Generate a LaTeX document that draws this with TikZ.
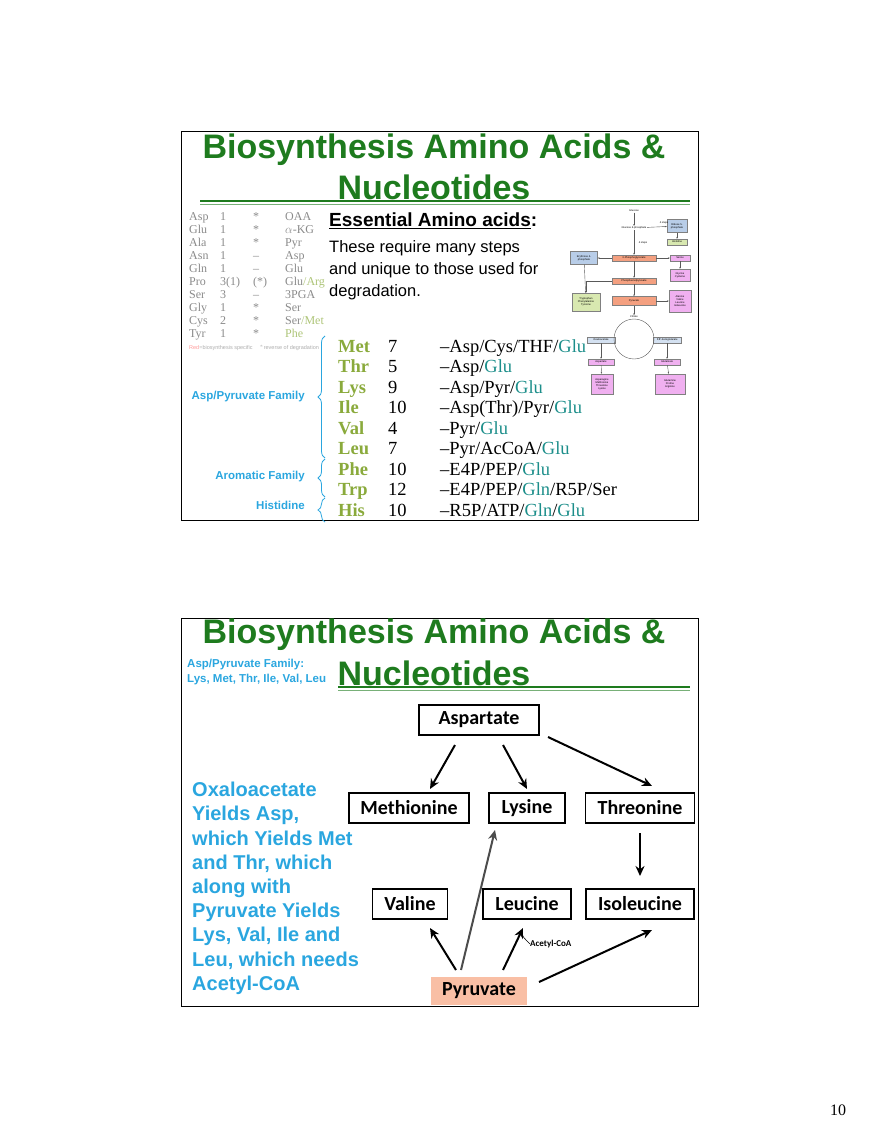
\documentclass[tikz,border=0pt]{standalone}
\usepackage{fontspec}
\setmainfont{Liberation Serif}
\newfontfamily\arial{Liberation Sans}
\newfontfamily\calib{Carlito}
\usetikzlibrary{arrows.meta,decorations.pathreplacing}
\definecolor{tgreen}{HTML}{1E7B1E}
\definecolor{olive}{HTML}{8AAA3C}
\definecolor{teal}{HTML}{1C8E8A}
\definecolor{sky}{HTML}{2AA6DF}
\definecolor{salmon}{HTML}{F9BFA5}
\definecolor{pgray}{HTML}{8A8A8A}
\definecolor{pbl}{HTML}{B8CDE8}
\definecolor{ppk}{HTML}{F0B0F0}
\definecolor{pgr}{HTML}{D8E8B0}
\definecolor{psl}{HTML}{F4A080}
\tikzset{
 title/.style={font=\arial\bfseries\fontsize{34}{34}\selectfont,text=tgreen},
 tab/.style={font=\fontsize{12}{12}\selectfont,text=pgray,anchor=base west,inner sep=0},
 aa/.style={font=\bfseries\fontsize{18.5}{18.5}\selectfont,text=olive,anchor=base west,inner sep=0},
 num/.style={font=\fontsize{18.5}{18.5}\selectfont,anchor=base west,inner sep=0},
 fam/.style={font=\arial\bfseries\fontsize{11.5}{11.5}\selectfont,text=sky,anchor=east,inner sep=0},
 br/.style={sky,thick,decorate,decoration={brace,amplitude=7pt,mirror}},
 aabox/.style={draw,line width=1.8pt,font=\calib\bfseries\fontsize{20}{20}\selectfont,inner sep=0,minimum height=30pt},
 arr/.style={-{Stealth[length=10pt,width=9pt]},line width=2pt},
 pb/.style={draw=gray,line width=0.3pt,font=\arial\fontsize{2.6}{3}\selectfont,inner sep=0.6pt,align=center},
 pa/.style={-{Stealth[length=2pt]},line width=0.4pt,gray!70!black},
}
\begin{document}
\begin{tikzpicture}[x=1pt,y=-1pt]
\useasboundingbox (0,0) rectangle (880,1139);
% ===== slide 1 =====
\draw[line width=1pt] (181,132) rectangle (698,520);
\node[title] (t1) at (434,150) {Biosynthesis Amino Acids \&};
\node[title] (t2) at (434,187) {Nucleotides};
\draw[tgreen,line width=1.2pt] (200,201) -- (690,201);
\draw[tgreen!60,line width=0.8pt] (200,204) -- (690,204);
\foreach \a/\b/\c/\d [count=\i] in {Asp/1/*/OAA,Glu/1/*/$\alpha$-KG,Ala/1/*/Pyr,Asn/1/--/Asp,Gln/1/--/Glu,Pro/3(1)/(*)/Glu{\color{olive!70}/Arg},Ser/3/--/3PGA,Gly/1/*/Ser,Cys/2/*/Ser{\color{olive!70}/Met},Tyr/1/*/{\color{olive!70}Phe}}{
 \pgfmathsetmacro\yy{221+(\i-1)*12.9}
 \node[tab] (ta\i) at (189,\yy) {\a};
 \node[tab] (tb\i) at (220,\yy) {\b};
 \node[tab] (tc\i) at (253,\yy) {\c};
 \node[tab] (td\i) at (285,\yy) {\d};
}
\node[tab,anchor=west,font=\arial\fontsize{5.5}{5.5}\selectfont,text=pgray!70] (fn) at (189,348) {{\color{red!40}Red}=biosynthesis specific \quad $^*$reverse of degradation};
\node[anchor=west,inner sep=0,font=\arial\bfseries\fontsize{19}{19}\selectfont] (ess) at (329,221) {\underline{Essential Amino acids}:};
\node[anchor=north west,inner sep=0,align=left,font=\arial\fontsize{16.5}{22}\selectfont] (req) at (329,240) {These require many steps\\and unique to those used for\\degradation.};
\foreach \n/\k/\f [count=\i] in {Met/7/{--Asp/Cys/THF/\textcolor{teal}{Glu}},Thr/5/{--Asp/\textcolor{teal}{Glu}},Lys/9/{--Asp/Pyr/\textcolor{teal}{Glu}},Ile/10/{--Asp(Thr)/Pyr/\textcolor{teal}{Glu}},Val/4/{--Pyr/\textcolor{teal}{Glu}},Leu/7/{--Pyr/AcCoA/\textcolor{teal}{Glu}},Phe/10/{--E4P/PEP/\textcolor{teal}{Glu}},Trp/12/{--E4P/PEP/\textcolor{teal}{Gln}/R5P/Ser},His/10/{--R5P/ATP/\textcolor{teal}{Gln}/\textcolor{teal}{Glu}}}{
 \pgfmathsetmacro\yy{352+(\i-1)*20.5}
 \node[aa] (n\i) at (338,\yy) {\n};
 \node[num] (k\i) at (388,\yy) {\k};
 \node[num] (f\i) at (440,\yy) {\f};
}
\draw[br] (325,336) -- (325,458);
\draw[br] (325,459) -- (325,497);
\draw[br] (325,498) -- (325,522);
\node[fam] (f1) at (305,397) {Asp/Pyruvate Family};
\node[fam] (f2) at (305,477) {Aromatic Family};
\node[fam] (f3) at (305,505) {Histidine};
% pathway thumbnail
\node[pb,draw=none] (glc) at (634,211) {Glucose};
\node[pb,draw=none] (g6p) at (634,228) {Glucose 6-phosphate};
\node[pb,fill=pbl,minimum width=20pt,minimum height=13pt] (r5p) at (677,226) {Ribose 5-\\phosphate};
\node[pb,fill=pgr,minimum width=20pt,minimum height=6pt] (his) at (677,242) {Histidine};
\node[pb,fill=psl,minimum width=44pt,minimum height=6pt] (pg) at (634,258) {3-Phosphoglycerate};
\node[pb,fill=pbl,minimum width=27pt,minimum height=13pt] (e4p) at (584,258) {Erythrose 4-\\phosphate};
\node[pb,fill=ppk,minimum width=20pt,minimum height=6pt] (ser) at (680,258) {Serine};
\node[pb,fill=ppk,minimum width=20pt,minimum height=12pt] (gly) at (680,275) {Glycine\\Cysteine};
\node[pb,fill=psl,minimum width=44pt,minimum height=6pt] (pep) at (634,281) {Phosphoenolpyruvate};
\node[pb,fill=pgr,minimum width=28pt,minimum height=18pt] (aro) at (586,302) {Tryptophan\\Phenylalanine\\Tyrosine};
\node[pb,fill=psl,minimum width=44pt,minimum height=9pt] (pyr) at (634,301) {Pyruvate};
\node[pb,fill=ppk,minimum width=22pt,minimum height=22pt] (ala) at (680,301) {Alanine\\Valine\\Leucine\\Isoleucine};
\node[pb,draw=none] (cit) at (634,317) {Citrate};
\node[pb,fill=pbl!60,minimum width=28pt,minimum height=6pt] (oaa) at (601,340) {Oxaloacetate};
\node[pb,fill=pbl!60,minimum width=28pt,minimum height=6pt] (akg) at (667,340) {$\alpha$-Ketoglutarate};
\node[pb,fill=ppk,minimum width=26pt,minimum height=6pt] (asp) at (601,362) {Aspartate};
\node[pb,fill=ppk,minimum width=26pt,minimum height=6pt] (glu) at (667,362) {Glutamate};
\node[pb,fill=ppk,minimum width=22pt,minimum height=20pt] (asn) at (602,384) {Asparagine\\Methionine\\Threonine\\Lysine};
\node[pb,fill=ppk,minimum width=30pt,minimum height=20pt] (gln) at (670,384) {Glutamine\\Proline\\Arginine};
\node[pb,draw=none] (s1) at (664,223) {4 steps};
\node[pb,draw=none] (s2) at (643,243) {4 steps};
\draw[pa] (glc)--(g6p); \draw[pa] (g6p)--(r5p); \draw[pa] (r5p)--(his);
\draw[pa] (g6p)--(pg); \draw[pa] (pg)--(e4p); \draw[pa] (pg)--(ser); \draw[pa] (ser)--(gly);
\draw[pa] (pg)--(pep); \draw[pa] (pep)--(pyr); \draw[pa] (pyr)--(ala); \draw[pa] (pyr)--(cit);
\draw[pa] (e4p)--(aro); \draw[pa] (pep.west) -| (aro.north);
\draw[pa] (634,339) circle (20);
\draw[pa] (oaa)--(asp); \draw[pa] (akg)--(glu); \draw[pa] (asp)--(asn); \draw[pa] (glu)--(gln);
% ===== slide 2 =====
\draw[line width=1pt] (181,618) rectangle (698,1006);
\node[title] (t3) at (434,635) {Biosynthesis Amino Acids \&};
\node[title] (t4) at (434,673) {Nucleotides};
\draw[tgreen,line width=1.2pt] (338,687) -- (690,687);
\draw[tgreen!60,line width=0.8pt] (338,690) -- (690,690);
\node[anchor=north west,inner sep=0,align=left,text=sky,font=\arial\bfseries\fontsize{11.5}{14.5}\selectfont] (lab) at (187,659) {Asp/Pyruvate Family:\\Lys, Met, Thr, Ile, Val, Leu};
\node[anchor=north west,inner sep=0,align=left,text=sky,font=\arial\bfseries\fontsize{20}{24.2}\selectfont] (expl) at (192,782) {Oxaloacetate\\Yields Asp,\\which Yields Met\\and Thr, which\\along with\\Pyruvate Yields\\Lys, Val, Ile and\\Leu, which needs\\Acetyl-CoA};
\node[aabox,minimum width=120pt] (Asp) at (479,720) {Aspartate};
\node[aabox,minimum width=120pt] (Met) at (409,808) {Methionine};
\node[aabox,minimum width=76pt] (Lys) at (527,808) {Lysine};
\node[aabox,minimum width=109pt] (Thr) at (640,808) {Threonine};
\node[aabox,minimum width=75pt] (Val) at (410,904) {Valine};
\node[aabox,minimum width=88pt] (Leu) at (527,904) {Leucine};
\node[aabox,minimum width=108pt] (Ile) at (640,904) {Isoleucine};
\node[fill=salmon,font=\calib\bfseries\fontsize{20}{20}\selectfont,minimum width=96pt,minimum height=28pt,inner sep=0] (Pyr) at (479,991) {Pyruvate};
\coordinate (a1) at (455,745); \coordinate (m1) at (430,789);
\coordinate (a2) at (503,745); \coordinate (l1) at (527,789);
\coordinate (a3) at (548,737); \coordinate (th1) at (652,786);
\coordinate (th2) at (640,833); \coordinate (i1) at (640,876);
\coordinate (p1) at (456,970); \coordinate (v1) at (430,928);
\coordinate (p2) at (461,970); \coordinate (l2) at (495,830);
\coordinate (p3) at (503,970); \coordinate (le1) at (523,928);
\coordinate (p4) at (539,982); \coordinate (i2) at (652,930);
\draw[arr] (a1) -- (m1);
\draw[arr] (a2) -- (l1);
\draw[arr] (a3) -- (th1);
\draw[arr] (th2) -- (i1);
\draw[arr] (p1) -- (v1);
\draw[arr,gray!60!black] (p2) -- (l2);
\draw[arr] (p3) -- (le1);
\draw[arr] (p4) -- (i2);
\node[anchor=west,inner sep=0,font=\calib\bfseries\fontsize{9}{9}\selectfont] (acc) at (530,944) {Acetyl-CoA};
\coordinate (hk) at (523,937);
\draw[line width=0.6pt] (acc.west) .. controls (hk) .. (522,934);
\node[font=\fontsize{16}{16}\selectfont] (pg10) at (838,1110) {10};
\end{tikzpicture}
\end{document}
